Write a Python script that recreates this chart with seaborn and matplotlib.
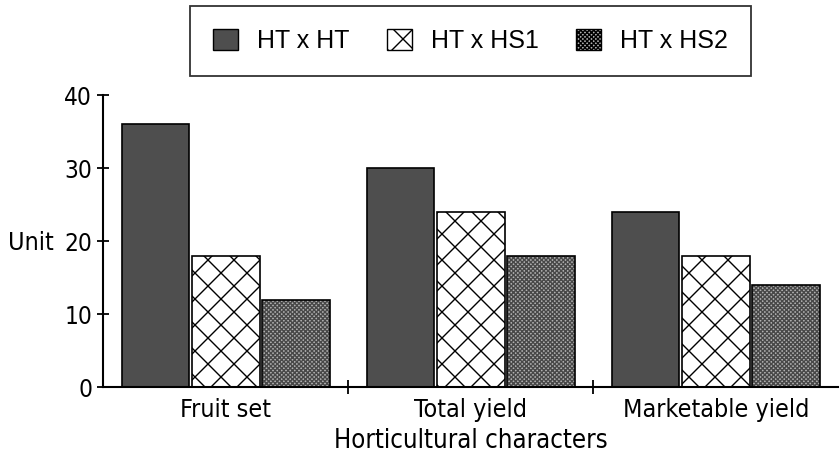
import matplotlib
matplotlib.use("Agg")
import matplotlib.pyplot as plt
import seaborn as sns
import pandas as pd
from matplotlib.patches import Patch

# 数据
characters = ["Fruit set", "Total yield", "Marketable yield"]
crosses = ["HT x HT", "HT x HS1", "HT x HS2"]
ht_ht = [36, 30, 24]
ht_hs1 = [18, 24, 18]
ht_hs2 = [12, 18, 14]
y_ticks = [0, 10, 20, 30, 40]

# 低 dpi 让交叉阴影更密，字号按比例放大
DPI = 78
def pt(v):
    return v * 100 / DPI

sns.set_theme(style="white")
plt.rcParams['font.family'] = ['DejaVu Sans']
plt.rcParams['font.stretch'] = 'condensed'
plt.rcParams['hatch.linewidth'] = pt(1.0)
for k in ["text.color", "axes.labelcolor", "xtick.color", "ytick.color"]:
    plt.rcParams[k] = "black"

df = pd.DataFrame({
    "character": characters * 3,
    "cross": [c for c in crosses for _ in characters],
    "value": ht_ht + ht_hs1 + ht_hs2,
})

fills = {"HT x HT": "#4e4e4e", "HT x HS1": "white", "HT x HS2": "#b0b0b0"}
hatches = {"HT x HT": "", "HT x HS1": "x", "HT x HS2": "xxxxxx"}
hatch_cols = {"HT x HT": "#4e4e4e", "HT x HS1": "black", "HT x HS2": "#484848"}

fig, ax = plt.subplots(figsize=(840 / DPI, 462 / DPI), dpi=DPI)
fig.subplots_adjust(left=0.123, right=0.998, bottom=0.162, top=0.794)

sns.barplot(data=df, x="character", y="value", hue="cross", order=characters,
            hue_order=crosses, palette=fills, saturation=1, width=0.86, gap=0.04,
            edgecolor="black", linewidth=pt(1.2), legend=False, ax=ax)

for cross, cont in zip(crosses, ax.containers):
    for bar in cont:
        bar.set_hatch(hatches[cross])
        bar._hatch_color = matplotlib.colors.to_rgba(hatch_cols[cross])

ax.set_xlim(-0.5, 2.5)
ax.set_ylim(0, 40)
ax.set_yticks(y_ticks)
ax.tick_params(axis="y", direction="inout", length=pt(8), width=pt(1.3), labelsize=pt(17.5),
               pad=pt(4), left=True)
ax.set_xticks([0, 1, 2])
ax.set_xticklabels(characters, fontsize=pt(18))
ax.set_xticks([0.5, 1.5], minor=True)
ax.tick_params(axis="x", which="major", length=0, pad=pt(8))
ax.tick_params(axis="x", which="minor", direction="inout", length=pt(10), width=pt(1.3), bottom=True)

for s in ["top", "right"]:
    ax.spines[s].set_visible(False)
for s in ["left", "bottom"]:
    ax.spines[s].set_color("black")
    ax.spines[s].set_linewidth(pt(1.5))

ax.set_xlabel("Horticultural characters", fontsize=pt(18.5), labelpad=pt(4))
ax.set_ylabel("Unit", fontsize=pt(18), rotation=0, ha="right", va="center")
ax.yaxis.set_label_coords(-0.068, 0.493)

handles = [Patch(facecolor=fills[c], edgecolor="black", hatch=hatches[c], lw=pt(1)) for c in crosses]
leg = fig.legend(handles, crosses, loc="upper center", bbox_to_anchor=(0.56, 0.986), ncol=3,
                 frameon=True, fancybox=False, edgecolor="black",
                 prop={"family": "Liberation Sans", "size": pt(18)},
                 handlelength=1.0, handleheight=0.92, columnspacing=1.5, borderpad=0.9,
                 handletextpad=0.76, borderaxespad=0)
leg.get_frame().set_linewidth(pt(1.3))

plt.savefig("out.png", dpi=DPI)
plt.close()
